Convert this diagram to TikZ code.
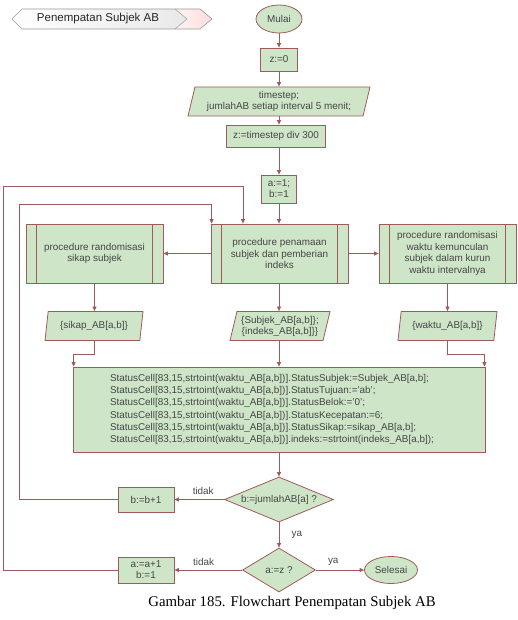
\documentclass[tikz,border=0pt]{standalone}
\usepackage{fontspec}
\setmainfont{Liberation Sans}
\newfontfamily\capfont{Liberation Serif}
\usetikzlibrary{shapes.geometric,arrows.meta,calc}
\definecolor{boxfill}{RGB}{206,229,200}
\definecolor{edge}{RGB}{160,90,90}
\definecolor{txt}{RGB}{70,70,70}
\begin{document}
\begin{tikzpicture}[x=1pt,y=-1pt,
  every node/.style={font=\fontsize{9.9}{11.8}\selectfont, text=txt},
  base/.style={draw=edge, fill=boxfill, line width=0.8pt, inner sep=0pt, align=center},
  procbox/.style={base, rectangle, minimum width=137pt, minimum height=59pt},
  stepbox/.style={base, rectangle},
  databox/.style={base, trapezium, trapezium left angle=71, trapezium right angle=109,
     trapezium stretches body, minimum height=29pt},
  decide/.style={base, diamond, aspect=2.4},
  term/.style={base, ellipse},
  conn/.style={draw=edge, line width=0.8pt, -{Triangle[length=4.5pt,width=4pt]}},
  line/.style={draw=edge, line width=0.8pt}
]
\useasboundingbox (0,0) rectangle (518,620);

% title banner
\path[left color=white, right color=black!10] (12,19) -- (22,9) -- (200,9) -- (212,19) -- (200,29) -- (22,29) -- cycle;
\path[left color=red!4, right color=red!14] (175,9) -- (200,9) -- (212,19) -- (200,29) -- (175,29) -- (187,19) -- cycle;
\draw[black!40, line width=0.6pt] (12,19) -- (22,9) -- (200,9) -- (212,19) -- (200,29) -- (22,29) -- cycle;
\draw[black!35, line width=0.6pt] (175,9) -- (187,19) -- (175,29);
\node[font=\fontsize{11.5}{13}\selectfont, text=black!85] (title) at (98,18.5) {Penempatan Subjek AB};

% main column
\node[term, minimum width=46pt, minimum height=28pt] (mulai) at (279,19) {Mulai};
\node[stepbox, minimum width=37pt, minimum height=23pt] (z0) at (279,59.5) {z:=0};
\node[databox, minimum width=182pt, font=\fontsize{9.9}{11}\selectfont] (ts) at (279,101.5) {timestep;\\jumlahAB setiap interval 5 menit;};
\node[stepbox, minimum width=99pt, minimum height=22pt] (zdiv) at (276,136) {z:=timestep div 300};
\node[stepbox, minimum width=35pt, minimum height=28pt, font=\fontsize{9.9}{11}\selectfont] (ab1) at (279,189) {a:=1;\\b:=1};

% procedures
\node[procbox] (pnam) at (279.5,253.5) {procedure penamaan\\subjek dan pemberian\\indeks};
\node[procbox] (psik) at (94.5,253.5) {procedure randomisasi\\sikap subjek};
\node[procbox] (pwak) at (447.5,253.5) {procedure randomisasi\\waktu kemunculan\\subjek dalam kurun\\waktu intervalnya};
\foreach \p in {pnam,psik,pwak}{
  \draw[line] ($(\p.north west)+(11,0)$) -- ($(\p.south west)+(11,0)$);
  \draw[line] ($(\p.north east)+(-11,0)$) -- ($(\p.south east)+(-11,0)$);
}

% data
\node[databox, minimum width=98pt] (dsik) at (94,326) {\{sikap\_AB[a,b]\}};
\node[databox, minimum width=100pt, font=\fontsize{9.9}{11}\selectfont] (dsub) at (280,326) {\{Subjek\_AB[a,b]\};\\\{indeks\_AB[a,b]\}\}};
\node[databox, minimum width=99pt] (dwak) at (447.5,326) {\{waktu\_AB[a,b]\}};

% big box
\node[stepbox, minimum width=412pt, minimum height=85pt, text width=338pt, align=left,
  font=\fontsize{9.9}{12.3}\selectfont] (big) at (279,409.5) {%
StatusCell[83,15,strtoint(waktu\_AB[a,b])].StatusSubjek:=Subjek\_AB[a,b];\\
StatusCell[83,15,strtoint(waktu\_AB[a,b])].StatusTujuan:='ab';\\
StatusCell[83,15,strtoint(waktu\_AB[a,b])].StatusBelok:='0';\\
StatusCell[83,15,strtoint(waktu\_AB[a,b])].StatusKecepatan:=6;\\
StatusCell[83,15,strtoint(waktu\_AB[a,b])].StatusSikap:=sikap\_AB[a,b];\\
StatusCell[83,15,strtoint(waktu\_AB[a,b])].indeks:=strtoint(indeks\_AB[a,b]);};

% decisions
\node[decide, minimum width=109pt, minimum height=45pt] (d1) at (279,499.5) {b:=jumlahAB[a] ?};
\node[stepbox, minimum width=56pt, minimum height=25pt] (bb) at (146,499.5) {b:=b+1};
\node[decide, minimum width=73pt, minimum height=44pt] (d2) at (279,570) {a:=z ?};
\node[stepbox, minimum width=56pt, minimum height=26pt, font=\fontsize{9.9}{11}\selectfont] (aa) at (146,570) {a:=a+1\\b:=1};
\node[term, minimum width=53pt, minimum height=27pt] (sel) at (391,570) {Selesai};

\node[font=\capfont\fontsize{14.8}{16}\selectfont, text=black] (cap) at (292,603) {Gambar 185. Flowchart Penempatan Subjek AB};

\coordinate (loopA) at (3,186);
\coordinate (loopB) at (19,204);

% connectors
\draw[conn] (mulai) -- (z0);
\draw[conn] (z0) -- (ts.north -| z0);
\draw[conn] (ts.south -| z0) -- (zdiv.north -| z0);
\draw[conn] (zdiv.south -| z0) -- (ab1);
\draw[conn] (ab1) -- (pnam.north -| ab1);
\draw[conn] (pnam.west) -- (psik.east);
\draw[conn] (pnam.east) -- (pwak.east -| pwak.west);
\draw[conn] (psik.south) -- (dsik.north -| psik.south);
\draw[conn] (pnam.south -| ab1) -- (dsub.north -| ab1);
\draw[conn] (pwak.south) -- (dwak.north -| pwak.south);
\draw[conn] (dsik.south -| psik.south) -- ++(0,13) -| ($(big.north west)+(1,0)$);
\draw[conn] (dsub.south -| ab1) -- (big.north -| ab1);
\draw[conn] (dwak.south -| pwak.south) -- ++(0,13) -| ($(big.north east)+(-1,0)$);
\draw[conn] (big.south -| ab1) -- (d1.north);
\draw[conn] (d1.west) -- node[above=1pt, pos=0.42] {tidak} (bb.east);
\draw[conn] (bb.west) -| (loopB) -| ($(pnam.north west)+(1,0)$);
\draw[conn] (d1.south) -- node[right=9pt] {ya} (d2.north);
\draw[conn] (d2.west) -- node[above=1pt, pos=0.57] {tidak} (aa.east);
\draw[conn] (aa.west) -| (loopA) -| ($(pnam.north)+(-36.5,0)$);
\draw[conn] (d2.east) -- node[above=1pt, pos=0.36] {ya} (sel.west);
\end{tikzpicture}
\end{document}
